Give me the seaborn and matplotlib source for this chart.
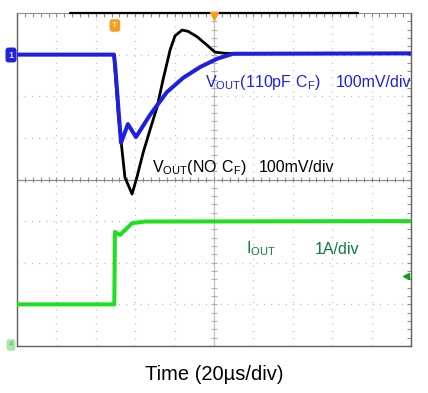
import numpy as np
import pandas as pd
import matplotlib
matplotlib.use("Agg")
import matplotlib.pyplot as plt
import seaborn as sns

# scope settings: 20 us/div over 10 divisions, 8 vertical divisions
US_PER_DIV = 20
MV_PER_DIV = 100
A_PER_DIV = 1
VOUT_OFFSET_DIV = 3.0   # both VOUT channels sit 3 div above centre
IOUT_OFFSET_DIV = -3.0  # 0 A sits 3 div below centre

# VOUT with 110pF feed-forward cap (deviation in mV), time in us from left edge
time_cf = [0, 49.2, 49.8, 52.8, 56.3, 60.4, 67.5, 76.1, 84.3, 92.9, 101.5, 109.6, 200]
vout_cf_mv = [0, 0, -25, -212, -167, -198, -145, -90, -56, -30, -10, 2, 3]

# VOUT with no feed-forward cap
time_nocf = [0, 49.2, 51.5, 54.8, 58.4, 60.9, 64.0, 67.5, 71.1, 74.1, 77.7,
             80.2, 83.8, 86.8, 91.4, 96.4, 100.5, 106.0, 200]
vout_nocf_mv = [0, 0, -150, -295, -335, -294, -236, -181, -126, -61, 11,
                45, 59, 56, 43, 23, 6, 3, 3]

# load current step (A)
time_iout = [0, 49.4, 49.7, 52.3, 58.4, 65.0, 200]
iout_a = [0, 0, 1.74, 1.67, 1.95, 1.99, 2.0]

sns.set_style("white")
plt.rcParams["font.family"] = ["Liberation Sans", "DejaVu Sans"]
plt.rcParams["mathtext.fontset"] = "custom"
plt.rcParams["mathtext.rm"] = "Liberation Sans"

blue = "#1f1fe0"
green = "#1fe01f"
text_green = "#0d7a3a"
orange = "#f5a020"
grid_c = "#b4b4b4"

fig = plt.figure(figsize=(4.28, 3.93), dpi=100)
ax = fig.add_axes([17 / 428, 47 / 393, 394 / 428, 333 / 393])
ax.set_xlim(0, 10 * US_PER_DIV)
ax.set_ylim(-4, 4)

# graticule
for i in range(1, 10):
    if i != 5:
        ax.axvline(i * US_PER_DIV, color=grid_c, lw=0.9, ls=(0, (0.8, 5.0)), zorder=0)
for j in range(-3, 4):
    if j != 0:
        ax.axhline(j, color=grid_c, lw=0.9, ls=(0, (0.8, 5.0)), zorder=0)
ax.axhline(0, color="#8c8c8c", lw=0.9, zorder=0)
ax.axvline(5 * US_PER_DIV, color="#c4c4c4", lw=0.9, zorder=0)
ax.vlines(np.arange(0, 200.1, US_PER_DIV / 5), -0.07, 0.07, color="#8c8c8c", lw=0.8, zorder=0)
ax.hlines(np.arange(-4, 4.01, 0.2), 98.5, 101.5, color="#b0b0b0", lw=0.8, zorder=0)

ax.set_xticks(np.arange(0, 200.1, US_PER_DIV / 5))
ax.set_yticks(np.arange(-4, 4.01, 0.2))
ax.tick_params(axis="both", which="both", direction="in", length=3, width=0.8,
               color="#8c8c8c", top=True, right=True,
               labelbottom=False, labelleft=False)
for side in ["left", "bottom", "right"]:
    ax.spines[side].set_color("#606060")
    ax.spines[side].set_linewidth(1.0)
ax.spines["top"].set_color("#909090")

# traces
df_nocf = pd.DataFrame({"t": time_nocf,
                        "y": VOUT_OFFSET_DIV + np.array(vout_nocf_mv) / MV_PER_DIV})
df_cf = pd.DataFrame({"t": time_cf,
                      "y": VOUT_OFFSET_DIV + np.array(vout_cf_mv) / MV_PER_DIV})
df_i = pd.DataFrame({"t": time_iout,
                     "y": IOUT_OFFSET_DIV + np.array(iout_a) / A_PER_DIV})

sns.lineplot(data=df_nocf, x="t", y="y", color="black", lw=2.0,
             estimator=None, sort=False, ax=ax, zorder=3)
sns.lineplot(data=df_cf, x="t", y="y", color=blue, lw=2.9,
             estimator=None, sort=False, ax=ax, zorder=4)
sns.lineplot(data=df_i, x="t", y="y", color=green, lw=2.9,
             estimator=None, sort=False, ax=ax, zorder=4)
ax.set_xlabel("")
ax.set_ylabel("")

# labels
ax.text(95.4, 2.34, r"$\mathregular{V_{OUT}(110pF\ C_F)}$", color=blue,
        fontsize=11.5, va="center", ha="left")
ax.text(161.9, 2.34, "100mV/div", color=blue, fontsize=11.5, va="center", ha="left")
ax.text(68.5, 0.30, r"$\mathregular{V_{OUT}(NO\ C_F)}$", color="black",
        fontsize=11.5, va="center", ha="left")
ax.text(122.8, 0.30, "100mV/div", color="black", fontsize=11.5, va="center", ha="left")
ax.text(116.2, -1.67, r"$\mathregular{I_{OUT}}$", color=text_green,
        fontsize=11.5, va="center", ha="left")
ax.text(151.3, -1.67, "1A/div", color=text_green, fontsize=11.5, va="center", ha="left")

# scope markers
ax.plot([26.9, 173.1], [4, 4], color="black", lw=1.6, clip_on=False, zorder=5)
ax.plot([100], [3.93], marker="v", color=orange, ms=6, clip_on=False, zorder=6)
ax.text(49.7, 3.7, "T", color="#ffe6b0", fontsize=6, ha="center", va="center",
        fontweight="bold",
        bbox=dict(boxstyle="round,pad=0.25", fc=orange, ec=orange))
ax.plot([197.5], [-2.32], marker="<", color="#1a9a1a", ms=5, clip_on=False, zorder=6)
fig.text(11 / 428, 1 - 55 / 393, "1", color="#d8d8ff", fontsize=6.5,
         ha="center", va="center", fontweight="bold",
         bbox=dict(boxstyle="round,pad=0.25", fc=blue, ec=blue))
fig.text(11 / 428, 1 - 345 / 393, "4", color="#60b060", fontsize=5.5,
         ha="center", va="center",
         bbox=dict(boxstyle="round,pad=0.2", fc="#a8e8a8", ec="#a8e8a8"))

fig.text(214 / 428, 1 - 374 / 393, "Time (20µs/div)", fontsize=14.5,
         ha="center", va="center", color="black")

fig.savefig("out.png", dpi=100)
